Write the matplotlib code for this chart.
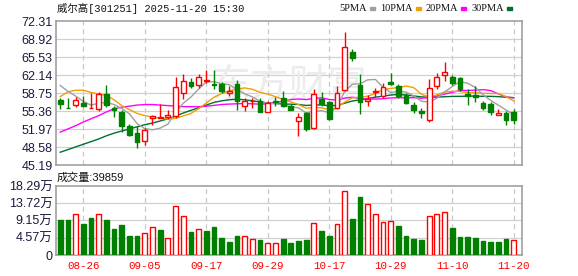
import numpy as np
import matplotlib
matplotlib.use('Agg')
import matplotlib.pyplot as plt
from matplotlib.patches import Rectangle

W, H = 578, 276

dates = ['08-21', '08-22', '08-25', '08-26', '08-27', '08-28', '08-29', '09-01', '09-02', '09-03',
         '09-04', '09-05', '09-08', '09-09', '09-10', '09-11', '09-12', '09-15', '09-16', '09-17',
         '09-18', '09-19', '09-22', '09-23', '09-24', '09-25', '09-26', '09-29', '09-30', '10-09',
         '10-10', '10-13', '10-14', '10-15', '10-16', '10-17', '10-20', '10-21', '10-22', '10-23',
         '10-24', '10-27', '10-28', '10-29', '10-30', '10-31', '11-03', '11-04', '11-05', '11-06',
         '11-07', '11-10', '11-11', '11-12', '11-13', '11-14', '11-17', '11-18', '11-19', '11-20']

open_ = [57.41, 56.00, 56.60, 56.85, 55.87, 55.75, 58.68, 55.87, 55.24, 52.50,
         51.19, 49.69, 54.12, 54.06, 54.25, 54.37, 58.86, 60.80, 60.24, 61.05,
         60.55, 60.49, 58.74, 60.43, 56.24, 57.25, 57.35, 55.24, 57.30, 57.92,
         56.24, 53.43, 54.93, 52.25, 57.61, 56.99, 55.87, 59.36, 66.60, 60.24,
         57.30, 58.93, 58.24, 60.86, 60.11, 58.36, 56.49, 55.37, 53.74, 60.11,
         62.23, 61.80, 61.55, 58.68, 58.36, 56.86, 56.68, 54.68, 54.99, 55.12]
high = [57.85, 57.79, 58.10, 58.30, 58.87, 58.93, 60.24, 56.24, 55.62, 52.87,
        52.50, 52.25, 54.62, 56.68, 55.62, 61.86, 62.30, 61.67, 62.30, 63.05,
        63.05, 60.92, 60.11, 61.17, 57.80, 57.80, 57.80, 57.36, 57.99, 59.17,
        56.68, 54.93, 55.24, 59.49, 59.05, 57.30, 60.11, 70.22, 67.16, 62.30,
        58.36, 59.67, 60.74, 62.48, 60.42, 58.74, 56.99, 55.87, 61.36, 62.48,
        64.60, 62.11, 61.86, 59.61, 60.11, 57.30, 56.99, 55.75, 55.43, 55.75]
low = [55.68, 55.90, 56.20, 56.20, 55.87, 55.43, 56.06, 54.31, 51.50, 50.62,
       48.38, 48.88, 52.75, 54.00, 53.87, 54.00, 57.61, 59.80, 59.80, 60.60,
       59.61, 58.86, 58.24, 55.62, 55.43, 55.90, 55.24, 55.24, 56.24, 56.06,
       55.55, 50.74, 51.69, 52.06, 56.24, 53.74, 55.75, 59.17, 64.79, 54.87,
       56.24, 58.11, 57.92, 60.30, 57.92, 56.68, 54.93, 54.06, 53.37, 59.61,
       60.99, 60.36, 59.17, 56.49, 56.99, 55.62, 54.62, 54.68, 52.74, 52.93]
close = [56.79, 55.90, 57.41, 56.30, 55.99, 58.68, 56.50, 55.56, 52.62, 50.87,
         49.44, 51.81, 54.37, 54.25, 54.56, 59.98, 61.10, 60.11, 61.86, 61.23,
         60.30, 59.17, 59.11, 57.25, 57.30, 57.35, 55.24, 56.86, 56.99, 56.24,
         55.62, 54.18, 52.00, 58.68, 56.68, 53.87, 58.74, 67.47, 65.35, 57.11,
         57.61, 59.17, 59.99, 60.49, 58.24, 56.86, 55.56, 54.99, 59.67, 61.86,
         62.80, 60.61, 59.61, 58.24, 57.99, 55.87, 55.24, 54.99, 53.74, 53.74]

# volume, unit: 万
volume = [9.28, 9.28, 10.87, 8.22, 9.81, 10.87, 9.28, 6.89, 7.95, 5.04,
          5.04, 5.83, 7.33, 6.63, 4.42, 12.99, 10.34, 6.10, 6.80, 6.36,
          7.42, 4.51, 3.53, 5.04, 4.95, 4.15, 3.98, 3.18, 3.18, 4.24,
          3.27, 3.80, 3.98, 8.48, 6.36, 5.12, 8.22, 16.88, 9.54, 15.37,
          13.52, 10.87, 8.75, 9.01, 7.69, 5.04, 4.24, 3.98, 10.34, 10.87,
          11.40, 7.16, 4.77, 4.77, 4.51, 3.80, 3.53, 3.53, 4.24, 3.99]

ma5 = [60.20, 59.10, 58.20, 57.20, 56.48, 56.86, 56.98, 56.61, 55.87, 54.85,
       53.00, 52.06, 51.82, 52.15, 52.89, 54.99, 56.85, 58.00, 59.52, 60.86,
       60.92, 60.53, 60.33, 59.41, 58.63, 58.04, 57.25, 56.80, 56.75, 56.54,
       56.19, 55.98, 55.01, 55.34, 55.43, 55.08, 55.99, 59.09, 60.42, 60.51,
       61.26, 61.34, 59.85, 58.87, 59.10, 58.95, 58.23, 57.23, 57.06, 57.79,
       58.98, 59.99, 60.91, 60.62, 59.85, 58.46, 57.39, 56.47, 55.57, 54.72]
ma10 = [58.10, 59.00, 59.30, 59.30, 58.90, 58.60, 58.30, 57.50, 56.40, 55.66,
        54.93, 54.52, 54.21, 54.01, 53.87, 54.00, 54.46, 54.91, 55.84, 56.87,
        57.96, 58.69, 59.17, 59.47, 59.74, 59.48, 58.89, 58.57, 58.08, 57.58,
        57.11, 56.61, 55.90, 56.05, 55.98, 55.64, 55.99, 57.05, 57.88, 57.97,
        58.17, 58.67, 59.47, 59.65, 59.80, 60.10, 59.79, 58.54, 57.97, 58.44,
        58.96, 59.11, 59.07, 58.84, 58.82, 58.72, 58.69, 58.69, 58.10, 57.28]
ma20 = [51.40, 52.00, 52.60, 53.30, 53.90, 54.50, 55.20, 55.80, 56.10, 56.30,
        56.50, 56.60, 56.60, 56.50, 56.40, 56.30, 56.20, 56.20, 56.20, 56.27,
        56.44, 56.61, 56.69, 56.74, 56.80, 56.74, 56.67, 56.74, 56.96, 57.23,
        57.54, 57.65, 57.54, 57.76, 57.86, 57.56, 57.44, 57.81, 57.98, 57.78,
        57.64, 57.64, 57.69, 57.85, 57.89, 57.87, 57.89, 57.79, 57.93, 58.21,
        58.57, 58.89, 59.27, 59.25, 59.31, 59.41, 59.24, 58.61, 58.03, 57.86]
ma30 = [47.60, 48.10, 48.60, 49.10, 49.60, 50.10, 50.70, 51.20, 51.60, 52.00,
        52.40, 52.80, 53.10, 53.50, 53.90, 54.40, 55.00, 55.50, 56.00, 56.50,
        57.00, 57.30, 57.50, 57.60, 57.50, 57.30, 57.10, 56.90, 56.80, 56.70,
        56.67, 56.61, 56.43, 56.51, 56.53, 56.37, 56.44, 56.84, 57.27, 57.47,
        57.75, 57.99, 58.18, 58.39, 58.51, 58.41, 58.22, 58.05, 57.98, 58.00,
        58.08, 58.13, 58.15, 58.18, 58.20, 58.15, 58.15, 58.09, 57.98, 57.90]

price_ticks = [45.19, 48.58, 51.97, 55.36, 58.75, 62.14, 65.53, 68.92, 72.31]
vol_ticks = [0, 4.57, 9.15, 13.72, 18.29]
vol_tick_labels = ['0', '4.57万', '9.15万', '13.72万', '18.29万']
ma_names = ['5PMA', '10PMA', '20PMA', '30PMA']
ma_colors = ['#a0a0a0', '#f0a000', '#ff00ff', '#006f2f']
title = '威尔高[301251] 2025-11-20 15:30'
vol_title = '成交量:39859'

RED = '#ff0000'
GREEN = '#008000'
GRID = '#d0d0d0'
FRAME = '#999999'
LABEL = '#1a1a40'
CJK = ['Liberation Sans', 'Noto Sans CJK SC']

o = np.array(open_)
c = np.array(close)
hi = np.array(high)
lo = np.array(low)
vol = np.array(volume)
x = np.arange(len(c))
up = c >= o
vol_up = np.r_[up[0], np.diff(c) >= 0]
label_idx = np.arange(3, len(x), 8)

fig = plt.figure(figsize=(W / 100, H / 100), dpi=100)
ax = fig.add_axes([56 / W, 1 - 165 / H, 466 / W, 143.7 / H])
axv = fig.add_axes([56 / W, 1 - 255 / H, 466 / W, 69 / H])

for a in (ax, axv):
    a.set_xlim(-0.55, 60.08)
    for s in a.spines.values():
        s.set_color(FRAME)
        s.set_linewidth(1.1)
    a.tick_params(length=0)
    for xi in label_idx:
        a.axvline(xi, color='#c8c8c8', lw=0.9, ls=(0, (4, 3)), zorder=1)

# price panel
ax.set_ylim(price_ticks[0], price_ticks[-1])
ax.set_yticks(price_ticks)
ax.set_yticklabels([f'{v:.2f}' for v in price_ticks], family='Liberation Sans',
                   fontsize=9, color=LABEL)
ax.tick_params(axis='y', pad=2.5)
ax.set_xticks([])
for v in price_ticks[1:-1]:
    ax.axhline(v, color=GRID, lw=0.9, zorder=1)

ax.text(0.50, 0.55, '东方财富', transform=ax.transAxes, ha='center', va='center',
        fontsize=28, color='#ececec', family='Noto Sans CJK SC', zorder=1.5)

for ma, col in zip([ma30, ma20, ma10, ma5], ma_colors[::-1]):
    ax.plot(x, ma, color=col, lw=1.0, zorder=2)

cols = np.where(up, RED, GREEN)
ax.vlines(x, lo, hi, colors=cols, lw=1.0, zorder=3)
body_h = np.abs(c - o)
body_b = np.minimum(c, o)
ax.bar(x, body_h, bottom=body_b, width=0.62, color=np.where(up, 'white', GREEN),
       edgecolor=cols, linewidth=1.0, zorder=4)

# volume panel
axv.set_ylim(0, 18.29)
axv.set_yticks(vol_ticks)
axv.set_yticklabels(vol_tick_labels, family=CJK, fontsize=9, color=LABEL)
axv.tick_params(axis='y', pad=2.5)
for v in vol_ticks[1:-1]:
    axv.axhline(v, color=GRID, lw=0.9, zorder=1)
vcols = np.where(vol_up, RED, GREEN)
axv.bar(x, vol, width=0.62, color=np.where(vol_up, 'white', GREEN),
        edgecolor=vcols, linewidth=1.0, zorder=3)
axv.set_xticks(label_idx)
axv.set_xticklabels([dates[i] for i in label_idx], family='Liberation Mono',
                    fontsize=7.8, color=RED)
axv.tick_params(axis='x', pad=4)

# header texts
fig.text(57 / W, 1 - 8.5 / H, title, ha='left', va='center', fontsize=7.5,
         family=['Liberation Mono', 'Noto Sans CJK SC'], color='#111111')
fig.text(57 / W, 1 - 177.5 / H, vol_title, ha='left', va='center', fontsize=8,
         family=CJK, color='#111111')

lx = [339, 380, 425.5, 471.5]
for px, name, col in zip(lx, ma_names, ma_colors):
    t = fig.text(px / W, 1 - 8.5 / H, name, ha='left', va='center', fontsize=7.5,
                 family='Liberation Serif', color='#111111')
    fig.canvas.draw()
    bb = t.get_window_extent()
    fig.patches.append(Rectangle(((bb.x1 + 3) / W, 1 - 10 / H), 5 / W, 2.6 / H,
                                 transform=fig.transFigure, color=col))

fig.savefig('out.png', dpi=100, facecolor='white')
